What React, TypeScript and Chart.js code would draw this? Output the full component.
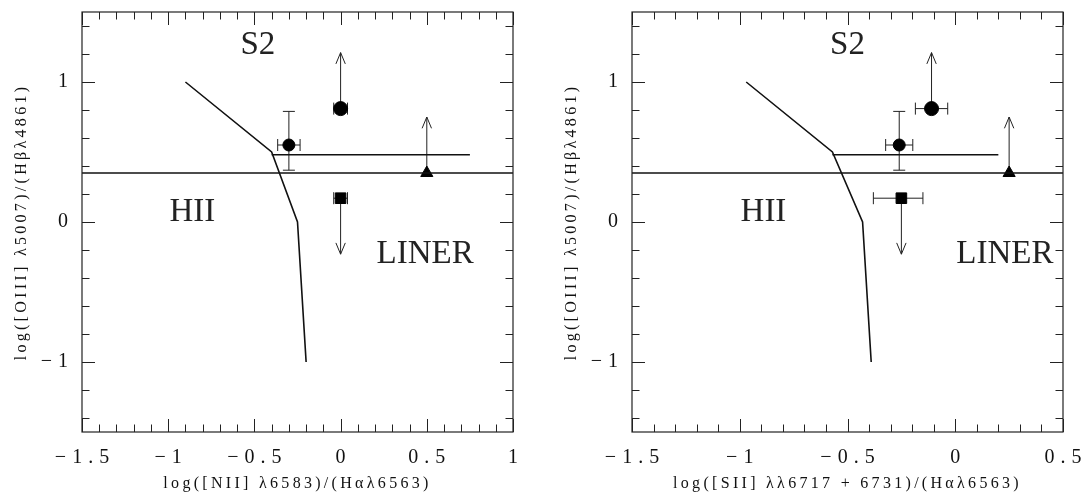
import React, { useEffect, useRef } from 'react';
import { Chart, registerables } from 'chart.js';

Chart.register(...registerables);

// ---------- data ----------
// Left panel: [NII]/Halpha
const niiCurveX = [-0.9, -0.4, -0.25, -0.2];
const niiCurveY = [1.0, 0.5, 0.0, -1.0];
const niiShelfX = [-0.4, 0.75];
const niiShelfY = [0.48, 0.48];
const niiObsX = [-0.3, 0.0, 0.0, 0.5];
const niiXErrMinus = [0.065, 0.04, 0.04, 0];
const niiXErrPlus = [0.065, 0.04, 0.04, 0];
const niiLabelX = [-0.48, -0.86, 0.49];
const niiLabelY = [1.26, 0.066, -0.23];

// Right panel: [SII]/Halpha
const siiCurveX = [-0.97, -0.57, -0.43, -0.39];
const siiCurveY = [1.0, 0.5, 0.0, -1.0];
const siiShelfX = [-0.57, 0.2];
const siiShelfY = [0.48, 0.48];
const siiObsX = [-0.26, -0.11, -0.25, 0.25];
const siiXErrMinus = [0.063, 0.075, 0.13, 0];
const siiXErrPlus = [0.063, 0.075, 0.1, 0];
const siiLabelX = [-0.5, -0.89, 0.23];
const siiLabelY = [1.26, 0.07, -0.23];

// Shared: [OIII]/Hbeta
const oiiiObsY = [0.55, 0.81, 0.17, 0.35];
const oiiiErrPlus = [0.24, 0, 0, 0];
const oiiiErrMinus = [0.18, 0, 0, 0];
const oiiiLimitTo: (number | null)[] = [null, 1.21, -0.23, 0.75];
const markerStyles = ['circle', 'circle', 'rect', 'triangle'];
const markerRadii = [6, 7, 7.5, 7];
const dividerY = 0.35;
const regionNames = ['S2', 'HII', 'LINER'];

const niiXTicks = [-1.5, -1, -0.5, 0, 0.5, 1];
const niiXTickText = ['\u22121.5', '\u22121', '\u22120.5', '0', '0.5', '1'];
const siiXTicks = [-1.5, -1, -0.5, 0, 0.5];
const siiXTickText = ['\u22121.5', '\u22121', '\u22120.5', '0', '0.5'];
const yTicks = [-1, 0, 1];
const yTickText = ['\u22121', '0', '1'];

const SERIF = "'Liberation Serif', 'DejaVu Serif', serif";
const INK = '#111';
const TICK_SPACING = 6;
const TITLE_SPACING = 3.3;

type Panel = {
  curveX: number[]; curveY: number[]; shelfX: number[]; shelfY: number[];
  obsX: number[]; xm: number[]; xp: number[]; labelX: number[]; labelY: number[];
  xMin: number; xMax: number; xTicks: number[]; xTickText: string[];
  xTitle: string; yWidth: number; rightPad: number; yTitlePad: number;
};

function makeChart(canvas: HTMLCanvasElement, p: Panel) {
  const pts = (xs: number[], ys: number[]) => xs.map((x, i) => ({ x, y: ys[i] }));
  const noPad = (s: any) => { s.paddingTop = 0; s.paddingBottom = 0; s.paddingLeft = 0; s.paddingRight = 0; };

  const plugin = {
    id: 'bpt',
    beforeDraw(chart: any) {
      chart.ctx.letterSpacing = `${TITLE_SPACING}px`;
    },
    beforeDatasetsDraw(chart: any) {
      const ctx = chart.ctx;
      ctx.letterSpacing = '0px';
      const xs = chart.scales.x, ys = chart.scales.y;
      ctx.save();
      ctx.strokeStyle = '#222';
      ctx.lineWidth = 1;
      const cap = 6;
      for (let i = 0; i < p.obsX.length; i++) {
        const px = xs.getPixelForValue(p.obsX[i]);
        const py = ys.getPixelForValue(oiiiObsY[i]);
        ctx.beginPath();
        if (p.xm[i] > 0 || p.xp[i] > 0) {
          const a = xs.getPixelForValue(p.obsX[i] - p.xm[i]);
          const b = xs.getPixelForValue(p.obsX[i] + p.xp[i]);
          ctx.moveTo(a, py); ctx.lineTo(b, py);
          ctx.moveTo(a, py - cap); ctx.lineTo(a, py + cap);
          ctx.moveTo(b, py - cap); ctx.lineTo(b, py + cap);
        }
        if (oiiiErrPlus[i] > 0 || oiiiErrMinus[i] > 0) {
          const a = ys.getPixelForValue(oiiiObsY[i] + oiiiErrPlus[i]);
          const b = ys.getPixelForValue(oiiiObsY[i] - oiiiErrMinus[i]);
          ctx.moveTo(px, a); ctx.lineTo(px, b);
          ctx.moveTo(px - cap, a); ctx.lineTo(px + cap, a);
          ctx.moveTo(px - cap, b); ctx.lineTo(px + cap, b);
        }
        const lim = oiiiLimitTo[i];
        if (lim !== null) {
          const tip = ys.getPixelForValue(lim);
          const dir = tip < py ? -1 : 1;
          ctx.moveTo(px, py); ctx.lineTo(px, tip);
          ctx.moveTo(px - 4.7, tip - dir * 11.3); ctx.lineTo(px, tip); ctx.lineTo(px + 4.7, tip - dir * 11.3);
        }
        ctx.stroke();
      }
      ctx.restore();
    },
    afterDatasetsDraw(chart: any) {
      chart.ctx.letterSpacing = `${TICK_SPACING}px`;
    },
    afterDraw(chart: any) {
      const ctx = chart.ctx;
      ctx.letterSpacing = '0px';
      const { left, right, top, bottom } = chart.chartArea;
      const xs = chart.scales.x, ys = chart.scales.y;
      ctx.save();
      ctx.strokeStyle = '#222';
      ctx.lineWidth = 1.2;
      ctx.strokeRect(left, top, right - left, bottom - top);
      ctx.lineWidth = 1;
      ctx.beginPath();
      const i0 = Math.ceil(p.xMin * 10 - 1e-6), i1 = Math.floor(p.xMax * 10 + 1e-6);
      for (let i = i0; i <= i1; i++) {
        const len = i % 5 === 0 ? 13 : 7.5;
        const px = Math.round(xs.getPixelForValue(i / 10)) + 0.5;
        ctx.moveTo(px, bottom); ctx.lineTo(px, bottom - len);
        ctx.moveTo(px, top); ctx.lineTo(px, top + len);
      }
      for (let i = -7; i <= 7; i++) {
        const len = i % 5 === 0 ? 13 : 7.5;
        const py = Math.round(ys.getPixelForValue(i * 0.2)) + 0.5;
        ctx.moveTo(left, py); ctx.lineTo(left + len, py);
        ctx.moveTo(right, py); ctx.lineTo(right - len, py);
      }
      ctx.stroke();
      ctx.fillStyle = '#222';
      ctx.font = `33px ${SERIF}`;
      ctx.textAlign = 'center';
      ctx.textBaseline = 'middle';
      regionNames.forEach((t, k) => {
        ctx.fillText(t, xs.getPixelForValue(p.labelX[k]), ys.getPixelForValue(p.labelY[k]));
      });
      ctx.restore();
    },
  };

  return new Chart(canvas, {
    type: 'scatter',
    data: {
      datasets: [
        { data: pts(p.curveX, p.curveY), showLine: true, borderColor: INK, borderWidth: 1.6, pointRadius: 0, fill: false },
        { data: pts(p.shelfX, p.shelfY), showLine: true, borderColor: INK, borderWidth: 1.6, pointRadius: 0, fill: false },
        { data: [{ x: p.xMin, y: dividerY }, { x: p.xMax, y: dividerY }], showLine: true, borderColor: INK, borderWidth: 1.4, pointRadius: 0, fill: false },
        {
          data: pts(p.obsX, oiiiObsY), showLine: false,
          pointStyle: markerStyles as any, pointRadius: markerRadii,
          backgroundColor: '#000', borderColor: '#000', pointBorderWidth: 1,
        } as any,
      ],
    },
    options: {
      responsive: false,
      animation: false,
      events: [],
      layout: { padding: { left: 0, right: p.rightPad, top: 12, bottom: 0 } },
      plugins: { legend: { display: false }, tooltip: { enabled: false } },
      scales: {
        x: {
          type: 'linear', min: p.xMin, max: p.xMax,
          afterBuildTicks: (s: any) => { s.ticks = p.xTicks.map((v) => ({ value: v })); },
          afterFit: (s: any) => { s.height = 64; noPad(s); },
          grid: { display: false, drawTicks: false },
          border: { display: false },
          ticks: {
            z: 1, autoSkip: false, maxRotation: 0, padding: 14, color: INK, labelOffset: TICK_SPACING / 2,
            font: { family: SERIF, size: 20 },
            callback: (v: any) => p.xTickText[p.xTicks.indexOf(Number(v))] ?? '',
          },
          title: { display: true, text: p.xTitle, color: INK, font: { family: SERIF, size: 16 }, padding: { top: 0, bottom: 3 } },
        },
        y: {
          type: 'linear', min: -1.5, max: 1.5,
          afterBuildTicks: (s: any) => { s.ticks = yTicks.map((v) => ({ value: v })); },
          afterFit: (s: any) => { s.width = p.yWidth; noPad(s); },
          grid: { display: false, drawTicks: false },
          border: { display: false },
          ticks: {
            z: 1, autoSkip: false, padding: 14 - TICK_SPACING, color: INK,
            font: { family: SERIF, size: 20 },
            callback: (v: any) => yTickText[yTicks.indexOf(Number(v))] ?? '',
          },
          title: { display: true, text: 'log([OIII] \u03bb5007)/(H\u03b2\u03bb4861)', color: INK, font: { family: SERIF, size: 16 }, padding: { top: p.yTitlePad, bottom: 0 } },
        },
      },
    } as any,
    plugins: [plugin],
  });
}

export default function App() {
  const leftRef = useRef<HTMLCanvasElement>(null);
  const rightRef = useRef<HTMLCanvasElement>(null);

  useEffect(() => {
    const a = makeChart(leftRef.current!, {
      curveX: niiCurveX, curveY: niiCurveY, shelfX: niiShelfX, shelfY: niiShelfY,
      obsX: niiObsX, xm: niiXErrMinus, xp: niiXErrPlus, labelX: niiLabelX, labelY: niiLabelY,
      xMin: -1.5, xMax: 1, xTicks: niiXTicks, xTickText: niiXTickText,
      xTitle: 'log([NII] \u03bb6583)/(H\u03b1\u03bb6563)', yWidth: 82, rightPad: 32, yTitlePad: 12,
    });
    const b = makeChart(rightRef.current!, {
      curveX: siiCurveX, curveY: siiCurveY, shelfX: siiShelfX, shelfY: siiShelfY,
      obsX: siiObsX, xm: siiXErrMinus, xp: siiXErrPlus, labelX: siiLabelX, labelY: siiLabelY,
      xMin: -1.5, xMax: 0.5, xTicks: siiXTicks, xTickText: siiXTickText,
      xTitle: 'log([SII] \u03bb\u03bb6717 + 6731)/(H\u03b1\u03bb6563)', yWidth: 87, rightPad: 24, yTitlePad: 17,
    });
    return () => { a.destroy(); b.destroy(); };
  }, []);

  return (
    <div style={{ position: 'absolute', left: 0, top: 0, width: 1087, height: 496, background: '#fff' }}>
      <canvas ref={leftRef} width={545} height={496} style={{ position: 'absolute', left: 0, top: 0 }} />
      <canvas ref={rightRef} width={542} height={496} style={{ position: 'absolute', left: 545, top: 0 }} />
    </div>
  );
}
